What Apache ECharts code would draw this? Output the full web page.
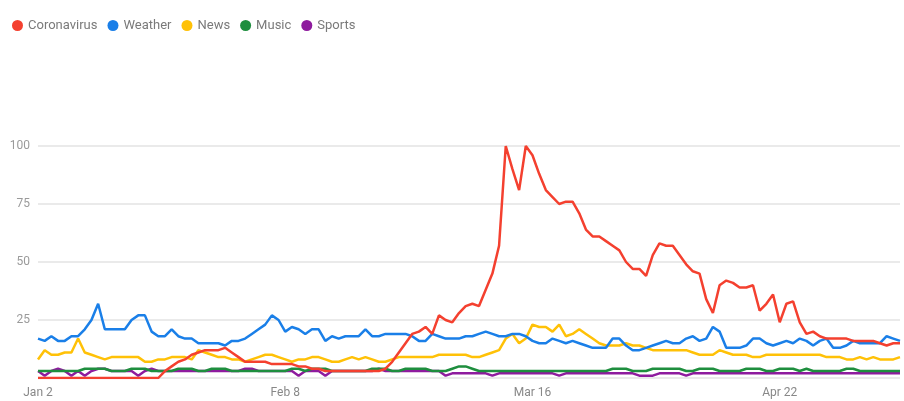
<!DOCTYPE html>
<html>
<head>
<meta charset="utf-8">
<title>Search interest</title>
<script src="https://cdn.jsdelivr.net/npm/echarts@6/dist/echarts.min.js"></script>
<style>
  html, body { margin: 0; padding: 0; background: #fff; }
  #trend { width: 904px; height: 401px; }
</style>
</head>
<body>
<div id="trend"></div>
<script>
// daily values, Jan 2 .. May 10 (130 days)
var startDate = new Date(2020, 0, 2);
var dayCount = 130;
var monthNames = ['Jan', 'Feb', 'Mar', 'Apr', 'May'];
var days = [];
for (var d = 0; d < dayCount; d++) {
  var dt = new Date(startDate.getTime());
  dt.setDate(dt.getDate() + d);
  days.push(monthNames[dt.getMonth()] + ' ' + dt.getDate());
}

var yTicks = [0, 25, 50, 75, 100];

var coronavirus = [
  0,0,0,0,0,0,0,0,0,0,0,0,0,0,0,0,0,0,0,3,
  5,7,8,10,11,12,12,12,13,11,9,7,7,7,7,6,6,6,6,5,
  5,4,4,3,3,3,3,3,3,3,3,3,4,7,11,15,19,20,22,19,
  27,25,24,28,31,32,31,38,45,57,100,90,81,100,96,88,81,78,75,76,
  76,71,64,61,61,59,57,55,50,47,47,44,53,58,57,57,53,49,46,45,
  34,28,40,42,41,39,39,40,29,32,36,24,32,33,24,19,20,18,17,17,
  17,17,16,16,16,16,15,14,15,15
];
var weather = [
  17,16,18,16,16,18,18,21,25,32,21,21,21,21,25,27,27,20,18,18,
  21,18,17,17,15,15,15,15,14,16,16,17,19,21,23,27,25,20,22,21,
  19,21,21,16,18,17,18,18,18,21,18,18,19,19,19,19,18,16,16,19,
  18,17,17,17,18,18,19,20,19,18,18,19,19,18,16,15,15,17,16,15,
  16,15,14,13,13,13,17,17,14,12,12,13,14,15,16,15,15,17,18,16,
  17,22,20,13,13,13,14,17,17,15,14,15,16,15,17,16,14,16,17,13,
  13,14,16,15,15,15,15,18,17,16
];
var news = [
  8,12,10,10,11,11,17,11,10,9,8,9,9,9,9,9,7,7,8,8,
  9,9,9,8,12,11,10,9,9,8,8,7,8,9,10,10,9,8,7,8,
  8,9,9,8,7,7,8,9,8,9,8,7,7,8,9,9,9,9,9,9,
  10,10,10,10,10,9,9,10,11,12,17,19,15,17,23,22,22,20,23,18,
  19,21,19,17,15,14,14,14,15,14,14,13,12,12,12,12,12,12,11,10,
  10,10,12,11,10,10,10,9,9,10,10,10,10,10,10,10,10,10,9,9,
  9,8,8,9,8,9,8,8,8,9
];
var music = [
  3,3,3,3,3,3,3,4,4,4,4,3,3,3,4,4,4,3,3,3,
  3,4,4,4,3,3,4,4,4,3,3,3,3,3,3,3,3,3,4,4,
  3,4,4,4,3,3,3,3,3,3,4,4,4,3,3,4,4,4,4,3,
  3,3,4,5,5,4,3,3,3,3,3,3,3,3,3,3,3,3,3,3,
  3,3,3,3,3,3,4,4,4,3,3,3,4,4,4,4,4,3,3,4,
  4,4,3,3,3,3,4,4,4,3,3,4,4,4,3,4,3,3,3,3,
  3,4,4,3,3,3,3,3,3,3
];
var sports = [
  3,1,3,4,3,1,3,1,3,4,4,3,3,3,3,1,3,4,3,3,
  3,3,3,3,3,3,3,3,3,3,3,4,4,3,3,3,3,3,3,1,
  3,3,3,1,3,3,3,3,3,3,3,4,3,3,3,3,3,3,3,3,
  3,1,2,2,2,2,2,2,1,2,2,2,2,2,2,2,2,2,1,2,
  2,2,2,2,2,2,2,2,2,2,1,1,1,2,2,2,2,1,2,2,
  2,2,2,2,2,2,2,2,2,2,2,2,2,2,2,2,2,2,2,2,
  2,2,2,2,2,2,2,2,2,2
];

var seriesNames = ['Coronavirus', 'Weather', 'News', 'Music', 'Sports'];
var seriesData = [coronavirus, weather, news, music, sports];
var seriesColors = ['#f4402f', '#1a7fe8', '#ffc107', '#1e8e3e', '#8e1b9e'];

var trendChart = echarts.init(document.getElementById('trend'));

// red drawn last so it sits on top
var lines = [];
for (var s = seriesNames.length - 1; s >= 0; s--) {
  lines.push({
    name: seriesNames[s],
    type: 'line',
    data: seriesData[s],
    showSymbol: false,
    symbol: 'none',
    color: seriesColors[s],
    lineStyle: { width: 2.5, color: seriesColors[s] },
    emphasis: { disabled: true }
  });
}

var option = {
  animation: false,
  backgroundColor: '#fff',

  // legend top left, round markers
  legend: {
    data: seriesNames,
    left: 7,
    top: 14,
    icon: 'circle',
    itemWidth: 11,
    itemHeight: 11,
    itemGap: 10,
    textStyle: {
      color: '#7a7a7a',
      fontSize: 13,
      fontFamily: 'Roboto'
    }
  },

  grid: {
    left: 38,
    right: 4,
    top: 146,
    bottom: 23
  },

  xAxis: [{
    type: 'category',
    data: days,
    boundaryGap: false,
    axisLine: { show: false },
    axisTick: { show: false },
    axisLabel: {
      interval: 36,
      color: '#888',
      fontSize: 12,
      fontFamily: 'Roboto',
      margin: 9
    },
    splitLine: { show: false }
  }],

  yAxis: [{
    type: 'value',
    min: yTicks[0],
    max: yTicks[yTicks.length - 1],
    interval: 25,
    axisLine: { show: false },
    axisTick: { show: false },
    axisLabel: {
      showMinLabel: false,
      color: '#9a9a9a',
      fontSize: 12,
      fontFamily: 'Roboto',
      margin: 8
    },
    splitLine: {
      lineStyle: { color: '#e3e3e3', width: 1.5 }
    }
  }],

  series: lines
};

trendChart.setOption(option);
</script>
</body>
</html>
